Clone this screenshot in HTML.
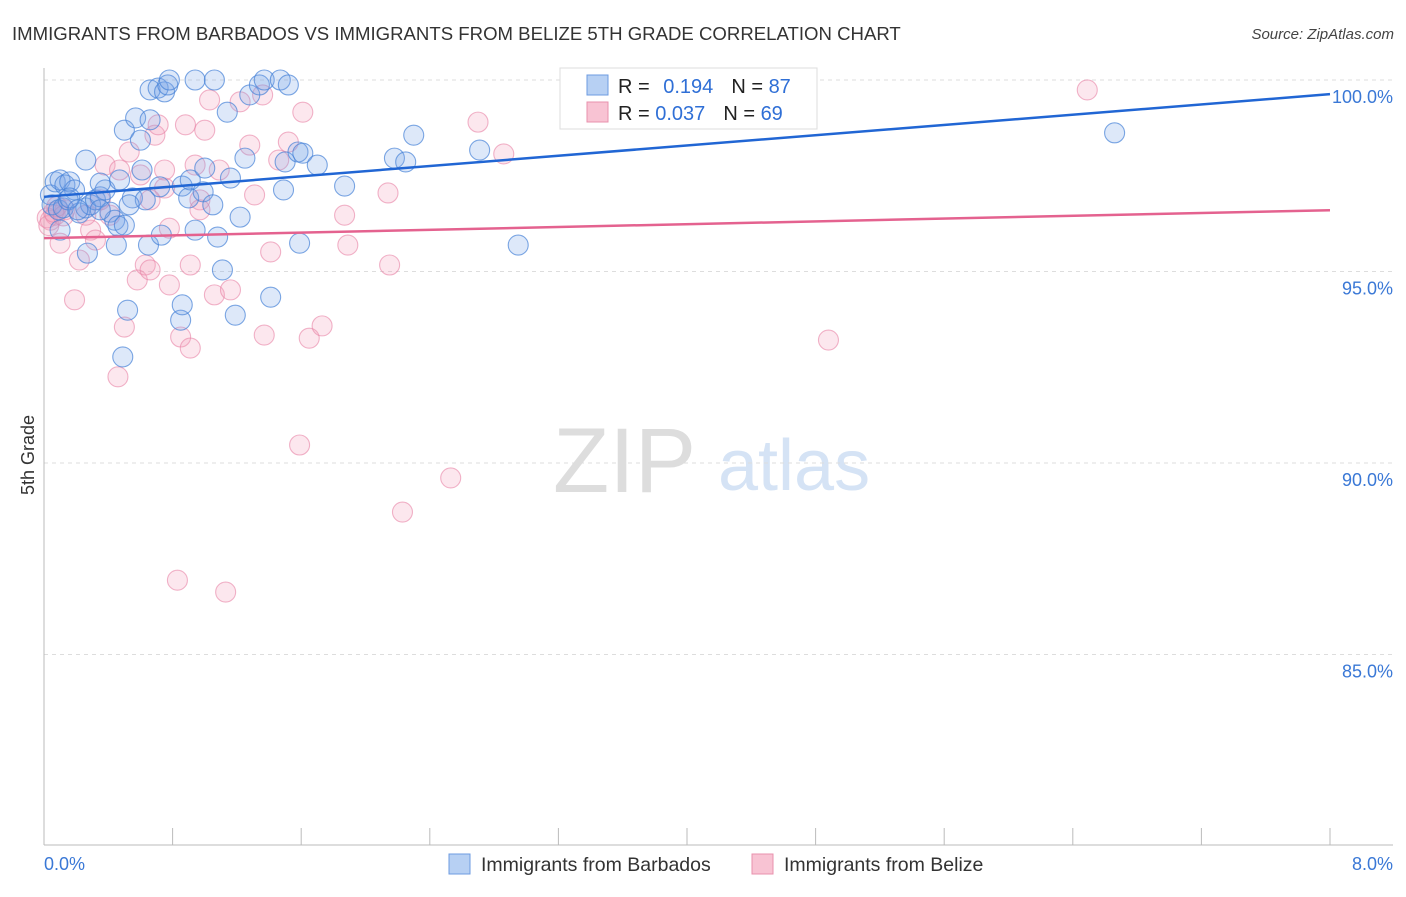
<!DOCTYPE html>
<html><head><meta charset="utf-8"><style>
body{margin:0;background:#fff;font-family:"Liberation Sans",sans-serif}
svg text{font-family:"Liberation Sans",sans-serif}
</style></head><body>
<svg id="chart" width="1406" height="892" xmlns="http://www.w3.org/2000/svg">
<text x="12" y="40" font-size="18.6" fill="#333">IMMIGRANTS FROM BARBADOS VS IMMIGRANTS FROM BELIZE 5TH GRADE CORRELATION CHART</text>
<text x="1394" y="39" font-size="15" fill="#444" font-style="italic" text-anchor="end">Source: ZipAtlas.com</text>
<g>
<text x="553" y="492" font-size="92" fill="#ddd" font-family="Liberation Serif, serif">ZIP</text>
<text x="718" y="490" font-size="72" fill="#d5e3f5">atlas</text>
</g>
<text transform="translate(34,455) rotate(-90)" font-size="18" fill="#333" text-anchor="middle">5th Grade</text>
<g id="grid"></g><g id="axes"></g><g id="pts"></g><g id="lines"></g>
<g>
<rect x="560" y="68" width="257" height="61" fill="#fff" stroke="#ddd"/>
<rect x="587" y="75" width="21" height="20" fill="#b7d0f3" stroke="#6d9be0"/>
<rect x="587" y="102" width="21" height="20" fill="#f8c3d3" stroke="#e891ad"/>
<text x="618" y="93" font-size="20" fill="#222">R = <tspan fill="#2f6fd6" dx="8">0.194</tspan><tspan dx="18" fill="#222">N = </tspan><tspan fill="#2f6fd6">87</tspan></text>
<text x="618" y="120" font-size="20" fill="#222">R = <tspan fill="#2f6fd6">0.037</tspan><tspan dx="18" fill="#222">N = </tspan><tspan fill="#2f6fd6">69</tspan></text>
</g>
<g>
<rect x="449" y="854" width="21" height="20" fill="#b7d0f3" stroke="#6d9be0"/>
<text x="481" y="871" font-size="19.5" fill="#333">Immigrants from Barbados</text>
<rect x="752" y="854" width="21" height="20" fill="#f8c3d3" stroke="#e891ad"/>
<text x="784" y="871" font-size="19.5" fill="#333">Immigrants from Belize</text>
</g>
</svg>
<script>
const blueX=[.04,.07,.10,.13,.16,.19,.05,.09,.12,.15,.22,.26,.29,.32,.35,.38,.26,.27,.35,.41,.44,.46,.45,.47,.50,.52,.49,.50,.55,.57,.60,.61,.65,.66,.66,.71,.73,.75,.77,.78,.72,.85,.86,.86,.90,.91,.94,.94,.99,1.00,1.05,1.06,1.08,1.11,1.14,1.16,1.19,1.22,1.25,1.28,1.34,1.37,1.41,1.47,1.49,1.50,1.52,1.58,1.59,1.61,1.70,1.87,2.18,2.25,2.30,2.71,2.95,6.66,.63,.10,.16,.21,.35,.53];
const blueY=[97.00,97.34,97.39,97.26,97.34,97.13,96.74,96.61,96.66,96.87,96.53,96.66,96.74,96.87,96.95,97.13,97.91,95.48,97.31,96.55,96.34,96.19,95.69,97.39,96.21,93.99,92.77,98.69,96.92,99.01,98.43,97.65,95.69,98.96,99.74,99.79,95.95,99.69,99.87,100,97.21,93.73,94.13,97.23,96.92,97.39,96.08,100,97.08,97.70,96.74,100,95.90,95.04,99.16,97.44,93.86,96.42,97.96,99.61,99.87,100,94.33,100,97.13,97.86,99.87,98.12,95.74,98.09,97.78,97.23,97.96,97.86,98.56,98.17,95.69,98.62,96.87,96.08,96.92,96.61,96.61,96.74];
const pinkX=[.04,.07,.10,.13,.19,.22,.29,.32,.38,.41,.46,.47,.50,.53,.58,.60,.63,.66,.69,.71,.75,.75,.78,.83,.85,.88,.91,.91,.94,.97,1.00,1.03,1.06,1.09,1.13,1.16,1.22,1.28,1.31,1.36,1.37,1.41,1.46,1.52,1.59,1.61,1.65,1.73,1.87,1.89,2.14,2.15,2.23,2.53,2.70,2.86,4.44,4.88,6.49,.35,.26,.66,.78,.97,.02,.03,.06,.08,.12];
const pinkY=[96.34,96.47,95.74,96.61,94.26,95.30,96.08,95.82,97.78,96.47,92.25,97.65,93.55,98.12,94.78,97.52,95.17,95.04,98.56,98.83,97.65,97.18,94.65,86.94,93.29,98.83,93.00,95.17,97.78,96.87,98.69,99.48,94.39,97.65,86.63,94.52,99.43,98.30,97.00,99.61,93.34,95.51,97.91,98.38,90.47,99.16,93.26,93.58,96.47,95.69,97.05,95.17,88.72,89.61,98.90,98.07,100,93.21,99.74,96.87,96.47,96.87,96.13,96.61,96.40,96.20,96.55,96.70,96.45];
const blueTrend=[96.95,99.63];
const pinkTrend=[95.87,96.60];
const yTicks=[100,95,90,85];
const yTickLabels=["100.0%","95.0%","90.0%","85.0%"];
const xTicks=[0,0.8,1.6,2.4,3.2,4.0,4.8,5.6,6.4,7.2,8.0];
const xEndLabels=["0.0%","8.0%"];
const NS="http://www.w3.org/2000/svg";
const X0=44,X1=1330,Y0=80,PPY=38.3;
const sx=v=>X0+(v/8)*(X1-X0);
const sy=v=>Y0+(100-v)*PPY;
function mk(tag,attrs,parent){const e=document.createElementNS(NS,tag);for(const k in attrs)e.setAttribute(k,attrs[k]);document.getElementById(parent).appendChild(e);return e;}
yTicks.forEach((t,i)=>{
 const l=mk('line',{x1:X0,x2:1393,y1:sy(t),y2:sy(t),stroke:'#ddd','stroke-dasharray':'4,4'},'grid');
 
 
 const tx=mk('text',{x:1393,y:sy(t)+23,'font-size':18,fill:'#3a78d6','text-anchor':'end'},'grid');
 tx.textContent=yTickLabels[i];
 
 
});
const ax=mk('line',{x1:X0,x2:X0,y1:68,y2:845,stroke:'#bbb'},'axes');


const bx=mk('line',{x1:X0,x2:1393,y1:845,y2:845,stroke:'#bbb'},'axes');


xTicks.forEach(t=>{
 const l=mk('line',{x1:sx(t),x2:sx(t),y1:828,y2:845,stroke:'#bbb'},'axes');
 
 
});
[[0,'start',44],[8,'end',1393]].forEach((d,i)=>{
 const tx=mk('text',{x:d[2],y:870,'font-size':18,fill:'#3a78d6','text-anchor':d[1]},'axes');
 tx.textContent=xEndLabels[i];
 
 
});
pinkX.forEach((v,i)=>{
 const c=mk('circle',{cx:sx(v),cy:sy(pinkY[i]),r:10,fill:'rgba(244,160,188,0.25)',stroke:'rgba(232,130,165,0.6)','stroke-width':1.1},'pts');
 
 
});
blueX.forEach((v,i)=>{
 const c=mk('circle',{cx:sx(v),cy:sy(blueY[i]),r:10,fill:'rgba(120,165,230,0.25)',stroke:'rgba(70,130,215,0.7)','stroke-width':1.1},'pts');
 
 
});
const bl=mk('line',{x1:sx(0),x2:sx(8),y1:sy(blueTrend[0]),y2:sy(blueTrend[1]),stroke:'#2166d4','stroke-width':2.5},'lines');


const pl=mk('line',{x1:sx(0),x2:sx(8),y1:sy(pinkTrend[0]),y2:sy(pinkTrend[1]),stroke:'#e4628f','stroke-width':2.5},'lines');


</script>
</body></html>
